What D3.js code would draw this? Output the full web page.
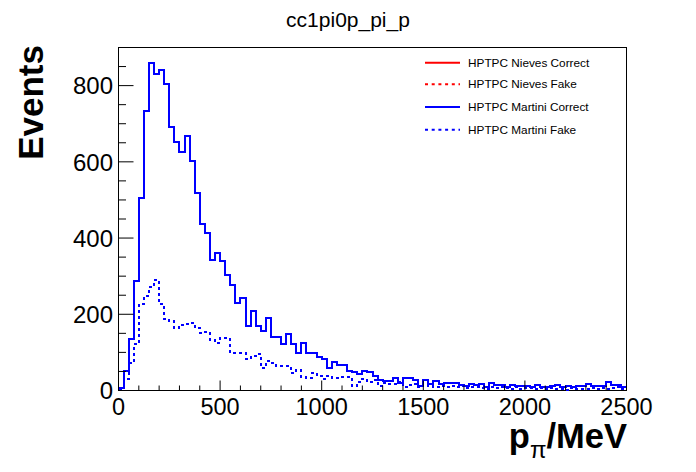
<!DOCTYPE html>
<html>
<head>
<meta charset="utf-8">
<script src="https://cdn.jsdelivr.net/npm/d3@7"></script>
<style>
  html, body { margin: 0; padding: 0; background: #fff; }
  svg { display: block; font-family: "Liberation Sans", Arial, sans-serif; }
</style>
</head>
<body>
<svg id="chart" width="696" height="472"></svg>
<script>
// ---- data ----
const binEdgesMin = 0;
const binEdgesMax = 2500;
const nBins = 100;

const martiniCorrect = [
  7, 52, 136, 287, 505, 733, 859, 830, 840, 804,
  691, 652, 626, 667, 602, 518, 437, 414, 342, 362,
  340, 303, 278, 230, 243, 169, 209, 169, 156, 191,
  141, 141, 122, 149, 122, 98, 125, 99, 99, 89,
  82, 60, 75, 66, 66, 51, 48, 43, 51, 48,
  39, 27, 25, 25, 34, 19, 34, 34, 28, 13,
  28, 16, 25, 17, 20, 20, 19, 14, 11, 16,
  14, 16, 9, 19, 14, 14, 9, 14, 13, 12,
  12, 9, 14, 10, 8, 12, 14, 8, 11, 8,
  12, 12, 18, 11, 11, 11, 21, 14, 14, 10
];

const martiniFake = [
  4, 29, 71, 122, 227, 248, 272, 290, 227, 187,
  183, 165, 172, 174, 178, 163, 150, 153, 132, 125,
  138, 138, 99, 99, 99, 82, 90, 95, 60, 77,
  71, 63, 64, 64, 45, 54, 36, 34, 47, 38,
  29, 39, 34, 34, 35, 35, 13, 22, 29, 21,
  28, 13, 19, 17, 18, 22, 10, 14, 18, 8,
  14, 12, 10, 13, 9, 12, 8, 11, 7, 10,
  9, 6, 5, 10, 7, 9, 6, 4, 8, 5,
  7, 6, 3, 7, 4, 6, 3, 5, 2, 6,
  3, 5, 4, 7, 4, 6, 3, 6, 8, 5
];

// Nieves histograms are fully hidden under the Martini ones in the picture
const nievesCorrect = martiniCorrect.slice();
const nievesFake = martiniFake.slice();

const xTicks = [0, 500, 1000, 1500, 2000, 2500];
const yTicks = [0, 200, 400, 600, 800];
const legendLabels = ["HPTPC Nieves Correct", "HPTPC Nieves Fake", "HPTPC Martini Correct", "HPTPC Martini Fake"];
const seriesColors = ["#ff0000", "#ff0000", "#0000ff", "#0000ff"];
const seriesDashed = [false, true, false, true];
const chartTitle = "cc1pi0p_pi_p";

// ---- layout ----
const L = 118.5, R = 626.5, T = 47.5, B = 390.5;
const yMax = 900;

const svg = d3.select("#chart");
const x = d3.scaleLinear().domain([binEdgesMin, binEdgesMax]).range([L, R]);
const y = d3.scaleLinear().domain([0, yMax]).range([B, T]);
const bw = (binEdgesMax - binEdgesMin) / nBins;

// frame
svg.append("rect").attr("x", L).attr("y", T).attr("width", R - L).attr("height", B - T)
  .attr("fill", "none").attr("stroke", "#000").attr("stroke-width", 1);

// histograms
function stepPath(vals) {
  const p = d3.path();
  vals.forEach((v, i) => {
    const x0 = Math.round(x(binEdgesMin + i * bw)), x1 = Math.round(x(binEdgesMin + (i + 1) * bw));
    const yy = Math.round(y(v));
    if (i === 0) p.moveTo(x0, yy); else p.lineTo(x0, yy);
    p.lineTo(x1, yy);
  });
  return p.toString();
}
const allSeries = [nievesCorrect, nievesFake, martiniCorrect, martiniFake];
const gHist = svg.append("g");
allSeries.forEach((vals, k) => {
  gHist.append("path").attr("d", stepPath(vals))
    .attr("fill", "none").attr("stroke", seriesColors[k]).attr("stroke-width", 2)
    .attr("stroke-dasharray", seriesDashed[k] ? "3,3" : null)
    .attr("shape-rendering", "crispEdges")
    .attr("stroke-linejoin", "miter");
});

// x axis ticks
const gx = svg.append("g");
d3.range(0, 2501, 100).forEach(v => {
  const major = v % 500 === 0;
  gx.append("line").attr("x1", x(v)).attr("x2", x(v)).attr("y1", B).attr("y2", B - (major ? 10 : 5))
    .attr("stroke", "#000").attr("stroke-width", 1);
});
xTicks.forEach(v => {
  gx.append("text").attr("x", x(v)).attr("y", 415).attr("text-anchor", "middle")
    .attr("font-size", 23.5).text(v);
});

// y axis ticks
const gy = svg.append("g");
d3.range(0, yMax + 1, 50).forEach(v => {
  const major = v % 200 === 0;
  gy.append("line").attr("x1", L).attr("x2", L + (major ? 15 : 7.5)).attr("y1", y(v)).attr("y2", y(v))
    .attr("stroke", "#000").attr("stroke-width", 1);
});
yTicks.forEach(v => {
  gy.append("text").attr("x", 113).attr("y", y(v) + 8.7).attr("text-anchor", "end")
    .attr("font-size", 24).text(v);
});

// axis titles
svg.append("text").attr("transform", "translate(43,45) rotate(-90)")
  .attr("text-anchor", "end").attr("font-size", 35).attr("font-weight", "bold").text("Events");

const xt = svg.append("text").attr("x", 627).attr("y", 448).attr("text-anchor", "end")
  .attr("font-weight", "bold").attr("font-size", 34.5);
xt.append("tspan").text("p");
xt.append("tspan").attr("font-size", 24).attr("font-weight", "normal").attr("dy", 10).text("π");
xt.append("tspan").attr("dy", -10).text("/MeV");

// title
svg.append("text").attr("x", 348).attr("y", 27).attr("text-anchor", "middle")
  .attr("font-size", 21).text(chartTitle);

// legend
const legY = [62.7, 84.3, 107, 129.7];
legendLabels.forEach((lab, k) => {
  svg.append("line").attr("x1", 425).attr("x2", 460).attr("y1", legY[k]).attr("y2", legY[k])
    .attr("stroke", seriesColors[k]).attr("stroke-width", 2)
    .attr("stroke-dasharray", seriesDashed[k] ? "3,3.7" : null);
  svg.append("text").attr("x", 468).attr("y", legY[k] + 4).attr("font-size", 11.8).text(lab);
});
</script>
</body>
</html>
